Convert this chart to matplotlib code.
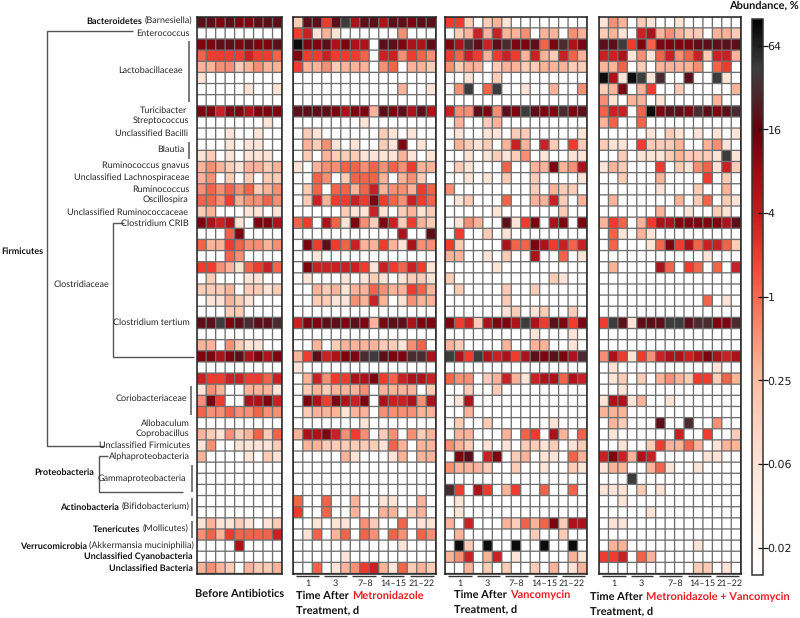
#!/usr/bin/env python3
# abundance heatmap for four treatment groups, cells coded by colour level

import numpy as np
import matplotlib
matplotlib.use('Agg')
import matplotlib.pyplot as plt
from matplotlib.colors import LinearSegmentedColormap, LogNorm

plt.rcParams['font.family'] = ['Lato', 'DejaVu Sans']
plt.rcParams['text.hinting'] = 'no_hinting'
plt.rcParams['text.hinting_factor'] = 1

# abundance (%) for each level code used in the rows below
level_codes = '0123456789abcd'
level_values = [0.01, 0.06, 0.15, 0.3, 0.55, 1.1, 2, 3.5, 6, 12, 20, 30, 45, 85]

before = ['aa9a99aaa', '000000000', '99aa9a99a', '566667665', '334423433', '100000000', '000001001', '000000000',
          '997998999', '000000010', '000100100', '000101100', '120101110', '343213323', '340202022', '454545234',
          '554634454', '230001101', '987810998', '000590000', '533654434', '000540000', '664315675', '020001100',
          '222302212', '011321000', '000220000', 'aac9abaab', '000000000', '330421100', '9989a8989', '000000000',
          '766776657', '143003331', '496008897', '544544544', '000000000', '321423525', '140011112', '300001021',
          '000000000', '000000000', '000000000', '000000000', '000000000', '131121012', '453655557', '000080000',
          '000000000', '343203223']

metronidazole = ['2aa6ac8aa8aa9aa', '671310000004000', 'd99a89880aa988a', '966766650774654', '633423330450332',
                 '000000000000000', '000000000003001', '000000000000000', 'aaaa98993a9a8a8', '000000010000000',
                 '021000000210100', '032410100219010', '020322211113101', '103445545454633', '005402555303420',
                 '025055357344365', '027366769654765', '000002117102312', '560851942972632', '00000000000800a',
                 '096a65733631844', '001000000000000', '097777761765761', '010001012101221', '003231335433653',
                 '002211437301433', '000000000000000', '799aa9a939aa899', '000000000000000', '003023333221450',
                 '36a7899bca99bb8', '100000000000000', '037466889657887', '023233340333302', '098698790877848',
                 '023331330444433', '000000010000000', '388974640240423', '033222222153033', '000003100013033',
                 '000000000000000', '000000000000000', '000000000000000', '500500300110030', '600500300330230',
                 '001011042005011', '015035054054054', '000000000001000', '000001000000000', '005013467315232']

vancomycin = ['662023100000000', '023737334033043', '98ba7ab99a59b89', '657636763732753', '423302332233322',
              '001002000000000', '04c05c001003004', '000000000000000', '744a94a9ca99b9a', '030023000000000',
              '010011022000001', '032120373072062', '001012124010011', '021000500339348', '001010200200001',
              '400000000203220', '012000500337203', '000001000000200', '014300a16908909', '060020100000000',
              '620000855986757', '330010200800501', '000001000000000', '200000000002100', '020000200200000',
              '000000200000000', '000000120120020', '96728998c86a969', '000000000100010', '320000300330010',
              'c86c87868a9a98b', '000000000000000', '544023731788587', '002002000000000', '018000000000000',
              '003000000000000', '020020000001000', '033000305608305', '432010102212012', '09a079023011053',
              '433320020010021', '000000000000000', 'b60860360050050', '010000000000000', '010000000000000',
              '307000325359288', '030000000200200', '0d20d00d00d00d0', '347037010000031', '003020200203013']

combined = ['143021001000000', '231078343220332', 'aac6959999aaaaa', '778141574572773', '335020333340560',
            'd81dc1b00a00c10', '239036002000003', '410330100000300', '57705d9aa9ba9ab', '350050000000000',
            '000001021010101', '211062223003410', '0020111232221c1', '132000602145172', '002000300006020',
            '000000100020030', '030000003025021', '000000300100210', '36503688999998a', '051031000000000',
            '050001596857752', '000000000001000', '030000850650507', '000000000000000', '000000000000000',
            '000000000005010', '000000000000000', '6ca1aaaccabb99b', '000000000000000', '000000000000000',
            '486164788789878', '010000000000100', '012020343266253', '001000000000000', '188130010000000',
            '333000000000000', '032000a00b00400', '010000007006002', '001002633530133', '797387000001100',
            '133003510010000', '000c00000000000', '111020100000000', '001000000000000', '000001000000000',
            '011000000000000', '000000000000000', '033000000010000', '667053000000000', '000000000022010']

# left, right of each panel in pixels
panel_x = [(196.7, 282), (293.3, 435.7), (445, 587), (599, 740.7)]
panel_top = 16.7
panel_bottom = 573.5

time_labels = ['1', '3', '7–8', '14–15', '21–22']
cbar_ticks = [64, 16, 4, 1, 0.25, 0.0625, 0.0156]
cbar_labels = ['64', '16', '4', '1', '0.25', '0.06', '0.02']

W, H = 800, 618

cbar_stops = [(0.01, '#ffffff'), (0.02, '#fff5f0'), (0.0625, '#fee3d6'), (0.25, '#fdbea5'), (1, '#f26b4e'),
              (2, '#ee3b2e'), (4, '#c01a20'), (8, '#9c0c14'), (16, '#66000c'), (30, '#4a2a30'),
              (45, '#3c3c3c'), (100, '#000000')]
cmap = LinearSegmentedColormap.from_list(
    'abund', [((np.log10(v) + 2) / 4, c) for v, c in cbar_stops], N=512)
norm = LogNorm(vmin=0.01, vmax=100)


def decode(rows):
    return np.array([[level_values[level_codes.index(ch)] for ch in r] for r in rows])


def pix_axes(x0, x1, y0, y1):
    return fig.add_axes([x0 / W, 1 - y1 / H, (x1 - x0) / W, (y1 - y0) / H])


fig = plt.figure(figsize=(W / 100, H / 100), dpi=100)

for (x0, x1), rows in zip(panel_x, [before, metronidazole, vancomycin, combined]):
    ax = pix_axes(x0, x1, panel_top, panel_bottom)
    vals = decode(rows)
    ax.pcolormesh(vals, cmap=cmap, norm=norm)
    # cell borders as unsnapped lines, pcolormesh edges come out uneven at this size
    hl = ax.hlines(np.arange(vals.shape[0] + 1), 0, vals.shape[1], color='#6f6f6f', lw=0.95)
    vl = ax.vlines(np.arange(vals.shape[1] + 1), 0, vals.shape[0], color='#6f6f6f', lw=0.95)
    hl.set_snap(False)
    vl.set_snap(False)
    ax.set_xlim(0, vals.shape[1])
    ax.set_ylim(vals.shape[0], 0)
    ax.set_xticks([])
    ax.set_yticks([])
    for s in ax.spines.values():
        s.set_linewidth(1.1)
        s.set_color('#222222')

# colour bar
cax = pix_axes(751.7, 762.7, 18.6, 574.6)
cb = fig.colorbar(plt.cm.ScalarMappable(norm=norm, cmap=cmap), cax=cax)
cb.minorticks_off()
cb.set_ticks(cbar_ticks)
cb.set_ticklabels(cbar_labels, fontfamily='DejaVu Sans', color='#222222')
cb.ax.tick_params(labelsize=8.0, length=7, width=0.9, direction='inout', pad=0, color='#111111')
cb.outline.set_linewidth(1.1)
cb.outline.set_edgecolor('#333333')

# overlay in pixel coordinates for labels and brackets
ov = fig.add_axes([0, 0, 1, 1], facecolor='none')
ov.set_xlim(0, W)
ov.set_ylim(H, 0)
ov.axis('off')

TXT = '#262626'
FS = 6.4
TFS = 8.2


def line(xs, ys, color='#555555', lw=1.0):
    ov.plot(xs, ys, color=color, lw=lw, solid_capstyle='butt', solid_joinstyle='miter')


def label(right, y, name, bold=''):
    # plain part right aligned, bold part placed in front of it
    if name:
        t = ov.text(right, y, name, ha='right', va='center', fontsize=FS, color=TXT)
        if bold:
            bb = t.get_window_extent(fig.canvas.get_renderer())
            ov.text(bb.x0 - 2, y, bold, ha='right', va='center', fontsize=FS, color='#111111', fontweight='bold')
    else:
        ov.text(right, y, bold, ha='right', va='center', fontsize=FS, color='#111111', fontweight='bold')


label(192, 21, '(Barnesiella)', 'Bacteroidetes')
label(189.5, 33, 'Enterococcus')
label(183, 70, 'Lactobacillaceae')
label(187, 110, 'Turicibacter')
label(189, 121, 'Streptococcus')
label(188, 133, 'Unclassified Bacilli')
label(184, 149, 'Blautia')
label(189, 166, 'Ruminococcus gnavus')
label(190, 178, 'Unclassified Lachnospiraceae')
label(189, 189, 'Ruminococcus')
label(188, 200, 'Oscillospira')
label(188, 212, 'Unclassified Ruminococcaceae')
label(189, 223, 'Clostridium CRIB')
label(190, 322, 'Clostridium tertium')
label(187, 398, 'Coriobacteriaceae')
label(190, 423, 'Allobaculum')
label(189, 434, 'Coprobacillus')
label(190, 445, 'Unclassified Firmicutes')
label(190, 456.5, 'Alphaproteobacteria')
label(186, 478.5, 'Gammaproteobacteria')
label(189, 507, '(Bifidobacterium)', 'Actinobacteria')
label(188, 529, '(Mollicutes)', 'Tenericutes')
label(194, 546, '(Akkermansia muciniphilia)', 'Verrucomicrobia')
label(193, 556.5, '', 'Unclassified Cyanobacteria')
label(193, 568, '', 'Unclassified Bacteria')
label(94, 472, '', 'Proteobacteria')
ov.text(1, 251, 'Firmicutes', ha='left', va='center', fontsize=FS, color='#111111', fontweight='bold')
ov.text(54, 284, 'Clostridiaceae', ha='left', va='center', fontsize=FS, color=TXT)

# taxonomy brackets
line([133, 47, 47, 104], [30.5, 30.5, 446, 446])
line([124, 113, 113, 194], [222.5, 222.5, 357, 357])
line([108, 98.5, 98.5, 183], [456, 456, 491.5, 491.5])
for x, y0, y1 in [(189, 41, 102), (189, 142, 159), (191, 386, 415), (192, 465, 492), (192, 498, 516),
                  (191.5, 521, 538)]:
    line([x, x], [y0, y1], lw=1.1)

# time bars below the panels
time_bars = [
    [(295.7, 319.3), (324, 346.7), (352, 376), (381, 404), (410, 434)],
    [(448, 472), (476.7, 500), (505, 528), (534, 556.7), (562, 585)],
    [(602, 625.7), (630.7, 653), (659, 682), (687.7, 710.7), (716, 739)],
]
time_centers = [
    [307.7, 335, 365, 393, 421.7],
    [460, 487.7, 516.7, 544, 572],
    [614, 641.7, 675, 702, 730],
]
for bars, centers in zip(time_bars, time_centers):
    for (x0, x1), c, lab in zip(bars, centers, time_labels):
        line([x0, x1], [575.8, 575.8], color='#333333', lw=1.0)
        ov.text(c, 583, lab, ha='center', va='center', fontsize=6.5, color=TXT)


def title(x, y, red):
    t = ov.text(x, y, 'Time After', ha='left', va='center', fontsize=TFS, color='#111111', fontweight='bold')
    bb = t.get_window_extent(fig.canvas.get_renderer())
    ov.text(bb.x1 + 3, y, red, ha='left', va='center', fontsize=TFS, color='#ee1c25', fontweight='bold')
    ov.text(x, y + 14.5, 'Treatment, d', ha='left', va='center', fontsize=TFS, color='#111111', fontweight='bold')


ov.text(195, 594, 'Before Antibiotics', ha='left', va='center', fontsize=TFS, color='#111111', fontweight='bold')
title(296, 595.5, 'Metronidazole')
title(454, 594.5, 'Vancomycin')
title(590, 596.5, 'Metronidazole + Vancomycin')

ov.text(799, 5, 'Abundance, %', ha='right', va='center', fontsize=7.8, color='#111111', fontweight='bold')

fig.savefig('out.png', dpi=100)
